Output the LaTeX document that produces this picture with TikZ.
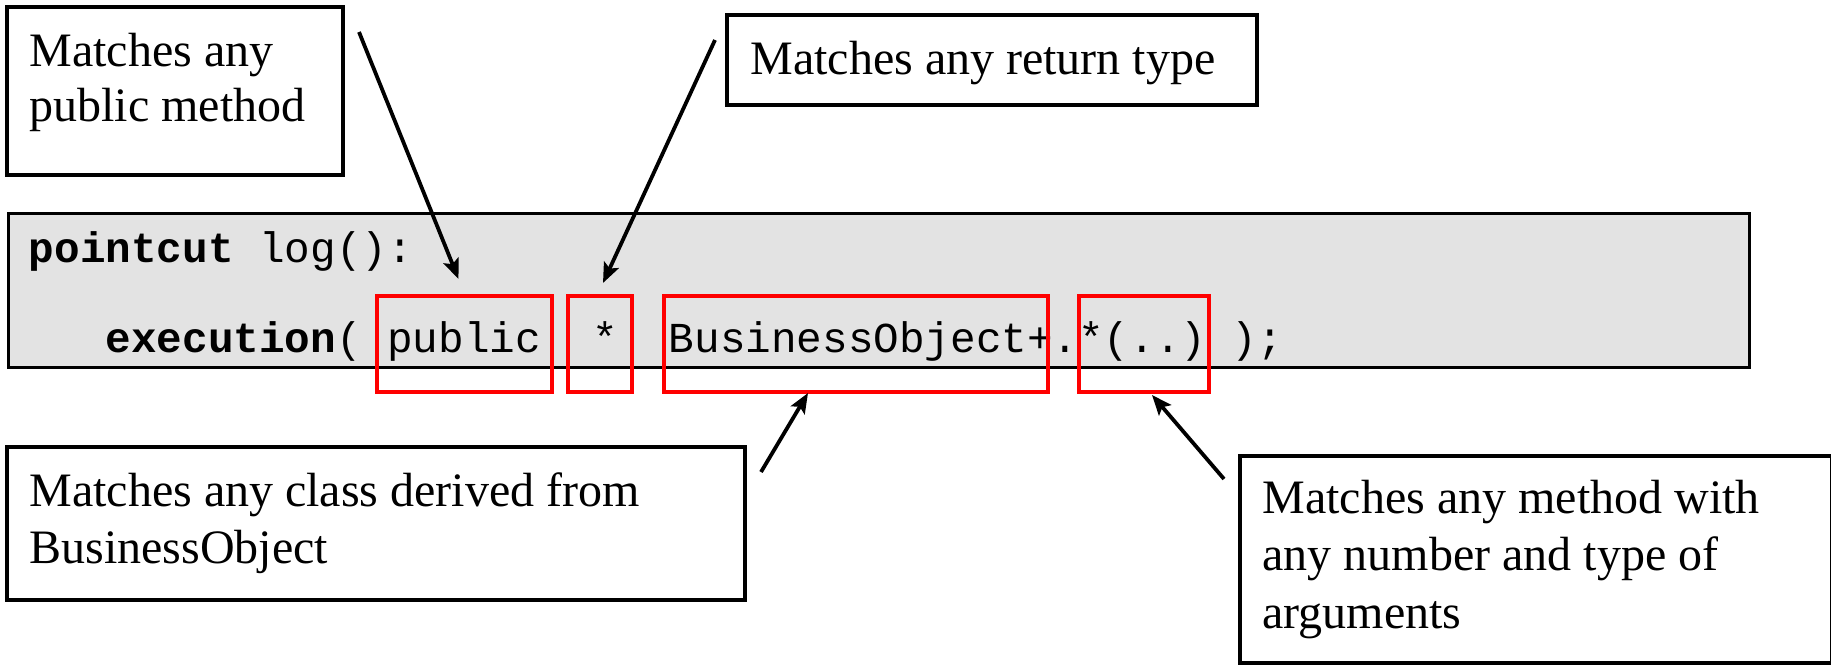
\documentclass[tikz,border=0pt]{standalone}
\usepackage{fontspec}
\setmainfont{Liberation Serif}
\setmonofont{Liberation Mono}
\usetikzlibrary{arrows.meta,fit,calc}

\definecolor{codegray}{HTML}{E3E3E3}
\definecolor{markred}{HTML}{FF0000}

\tikzset{
  callout/.style={draw=black, line width=1.7pt, inner sep=0pt, outer sep=0pt},
  codebox/.style={draw=black, fill=codegray, line width=1.5pt, inner sep=0pt, outer sep=0pt},
  redmark/.style={draw=markred, line width=1.9pt, inner sep=0pt, outer sep=0pt},
  note/.style={anchor=base west, inner sep=0pt, font=\fontsize{24pt}{28pt}\selectfont},
  code/.style={anchor=base west, inner sep=0pt, font=\ttfamily\fontsize{21.33pt}{25pt}\selectfont},
  pointer/.style={line width=1.9pt, -{Stealth[length=10pt,width=8pt,inset=2pt]}}
}

\begin{document}
\begin{tikzpicture}[x=0.5pt, y=-0.5pt]
\useasboundingbox (0,0) rectangle (1831,664);

% code listing
\node[codebox, fit={(8,213) (1749,367)}] (code) {};
\node[code] (line1) at (28.5,262) {\textbf{pointcut} log():};
\node[code] (line2) at (105.3,352) {\textbf{execution}(~public~~*~~BusinessObject+.*(..)~);};

% highlighted parts of the pointcut expression
\node[redmark, fit={(377,296) (552,392)}] (rpub) {};
\node[redmark, fit={(568,296) (632,392)}] (rstar) {};
\node[redmark, fit={(664,296) (1048,392)}] (rbus) {};
\node[redmark, fit={(1079,296) (1209,392)}] (rargs) {};

% explanations
\node[callout, fit={(7,7) (343,175)}] (c1) {};
\node[note] (c1a) at (29,66) {Matches any};
\node[note] (c1b) at (29,121) {public method};

\node[callout, fit={(727,15) (1257,105)}] (c2) {};
\node[note] (c2a) at (750,74) {Matches any return type};

\node[callout, fit={(7,447) (745,600)}] (c3) {};
\node[note] (c3a) at (29,506) {Matches any class derived from};
\node[note] (c3b) at (29,563) {BusinessObject};

\node[callout, fit={(1240,456) (1832,663)}] (c4) {};
\node[note] (c4a) at (1262,513) {Matches any method with};
\node[note] (c4b) at (1262,570) {any number and type of};
\node[note] (c4c) at (1262,628) {arguments};

% pointers from the explanations to the marked parts
\draw[pointer] ($(c1.north east)+(16,25)$) -- ($(rpub.north)+(-6,-17)$);
\draw[pointer] ($(c2.north west)+(-12,25)$) -- ($(rstar.north)+(3,-13)$);
\draw[pointer] ($(c3.north east)+(16,25)$) -- ($(rbus.south)+(-48,1)$);
\draw[pointer] ($(c4.north west)+(-16,23)$) -- ($(rargs.south)+(8,3)$);
\end{tikzpicture}
\end{document}
